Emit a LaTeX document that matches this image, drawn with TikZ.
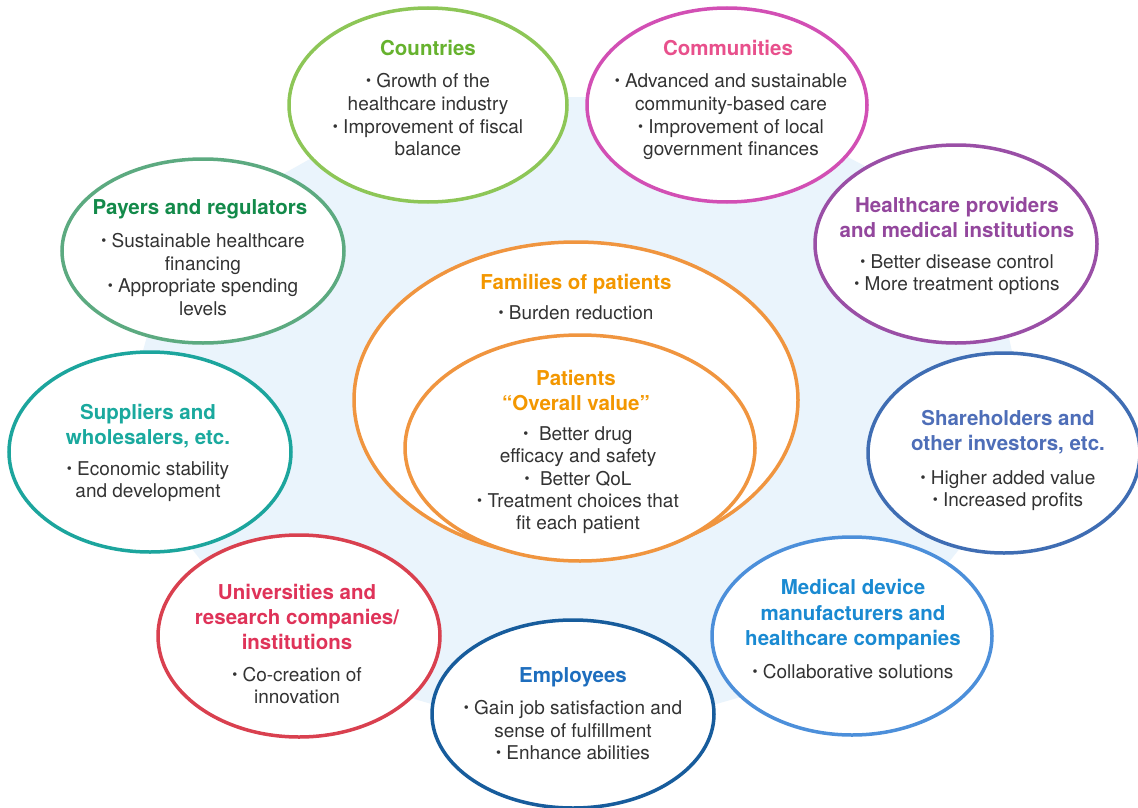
\documentclass[tikz,border=0pt]{standalone}
\usepackage{fontspec}
\setmainfont{TeX Gyre Heros}
\usetikzlibrary{shapes.geometric}
\definecolor{bgblue}{HTML}{EAF4FC}
\definecolor{txtgray}{HTML}{333333}
\definecolor{cGreenE}{HTML}{8DC657}\definecolor{cGreenT}{HTML}{66B22E}
\definecolor{cPinkE}{HTML}{D24FB4}\definecolor{cPinkT}{HTML}{E8508C}
\definecolor{cPurpE}{HTML}{9A4FA6}\definecolor{cPurpT}{HTML}{93479D}
\definecolor{cShE}{HTML}{3F6DB3}\definecolor{cShT}{HTML}{4E6EB8}
\definecolor{cMedE}{HTML}{4C8FDA}\definecolor{cMedT}{HTML}{1A8AD2}
\definecolor{cEmpE}{HTML}{175C9C}\definecolor{cEmpT}{HTML}{1E6EBE}
\definecolor{cUniE}{HTML}{D9404F}\definecolor{cUniT}{HTML}{DF3359}
\definecolor{cSupE}{HTML}{1CA59D}\definecolor{cSupT}{HTML}{1AA99E}
\definecolor{cPayE}{HTML}{5CAA80}\definecolor{cPayT}{HTML}{138A4A}
\definecolor{cOrE}{HTML}{F0953F}\definecolor{cOrT}{HTML}{F39700}
\newcommand\bul{\raisebox{0.2ex}{\scalebox{0.75}{•}}\ }
\newcommand\bublines[6]{\foreach \t [count=\i] in {#6} {\node[#5] (#1-\i) at ({#2},{#3+(\i-1)*#4}) {\t};}}
\tikzset{
  bub/.style={ellipse, draw=#1, line width=3.5pt, fill=white, inner sep=0pt, outer sep=0pt},
  ttl/.style={anchor=mid, yshift=-5pt, inner sep=0pt, text=#1, font=\fontsize{20.5}{24}\selectfont\bfseries},
  bdy/.style={anchor=mid, yshift=-5pt, inner sep=0pt, text=txtgray, font=\fontsize{19}{22}\selectfont}
}
\begin{document}
\begin{tikzpicture}[x=1pt,y=-1pt]
\useasboundingbox (0,0) rectangle (1138,808);
\fill[white] (0,0) rectangle (1138,808);
% light blue background
\fill[bgblue, rounded corners=60pt] (420,97) -- (735,97) -- (985,230) -- (1035,455) -- (870,660) -- (573,745) -- (280,660) -- (115,452) -- (175,235) -- cycle;
% outer bubbles
\node[bub=cGreenE, minimum width=278, minimum height=194] (countries) at (428,105) {};
\node[bub=cPinkE, minimum width=280, minimum height=194] (communities) at (727,105) {};
\node[bub=cPayE, minimum width=282, minimum height=184] (payers) at (203,251) {};
\node[bub=cPurpE, minimum width=282, minimum height=198] (providers) at (956,244) {};
\node[bub=cShE, minimum width=272, minimum height=200] (shareholders) at (1004,453) {};
\node[bub=cMedE, minimum width=280, minimum height=198] (medical) at (852,636) {};
\node[bub=cEmpE, minimum width=282, minimum height=188] (employees) at (573,714) {};
\node[bub=cUniE, minimum width=282, minimum height=202] (universities) at (299,636) {};
\node[bub=cSupE, minimum width=282, minimum height=200] (suppliers) at (150,452) {};
% center bubbles
\node[bub=cOrE, minimum width=444, minimum height=316] (families) at (576,400) {};
\node[bub=cOrE, minimum width=350, minimum height=226] (patients) at (580,448) {};
% texts
\bublines{countriesT}{428}{48}{25}{ttl=cGreenT}{Countries}
\bublines{countriesB}{428}{80}{22.7}{bdy}{{\bul Growth of the},{healthcare industry},{\bul Improvement of fiscal},{balance}}
\bublines{communitiesT}{728}{48}{25}{ttl=cPinkT}{Communities}
\bublines{communitiesB}{731}{80}{22.7}{bdy}{{\bul Advanced and sustainable},{community-based care},{\bul Improvement of local},{government finances}}
\bublines{payersT}{200}{207}{25}{ttl=cPayT}{Payers and regulators}
\bublines{payersB}{203}{240}{22.5}{bdy}{{\bul Sustainable healthcare},{financing},{\bul Appropriate spending},{levels}}
\bublines{providersT}{957}{205}{25}{ttl=cPurpT}{{Healthcare providers},{and medical institutions}}
\bublines{providersB}{957}{261}{22}{bdy}{{\bul Better disease control},{\bul More treatment options}}
\bublines{shareholdersT}{1008}{418}{25}{ttl=cShT}{{Shareholders and},{other investors, etc.}}
\bublines{shareholdersB}{1008}{477}{21.5}{bdy}{{\bul Higher added value},{\bul Increased profits}}
\bublines{medicalT}{853}{587}{25.5}{ttl=cMedT}{{Medical device},{manufacturers and},{healthcare companies}}
\bublines{medicalB}{853}{671}{22}{bdy}{{\bul Collaborative solutions}}
\bublines{employeesT}{573}{675}{25}{ttl=cEmpT}{Employees}
\bublines{employeesB}{573}{707}{22.5}{bdy}{{\bul Gain job satisfaction and},{sense of fulfillment},{\bul Enhance abilities}}
\bublines{universitiesT}{297}{592}{25}{ttl=cUniT}{{Universities and},{research companies/},{institutions}}
\bublines{universitiesB}{297}{674}{22}{bdy}{{\bul Co-creation of},{innovation}}
\bublines{suppliersT}{148}{412}{25}{ttl=cSupT}{{Suppliers and},{wholesalers, etc.}}
\bublines{suppliersB}{148}{468}{22}{bdy}{{\bul Economic stability},{and development}}
\bublines{familiesT}{576}{282}{25}{ttl=cOrT}{Families of patients}
\bublines{familiesB}{576}{312}{22}{bdy}{{\bul Burden reduction}}
\bublines{patientsT}{576}{378}{25}{ttl=cOrT}{{Patients},{“Overall value”}}
\bublines{patientsB}{578}{433}{22.2}{bdy}{{\bul\ Better drug},{efficacy and safety},{\bul\ Better QoL},{\bul Treatment choices that},{fit each patient}}
\end{tikzpicture}
\end{document}
